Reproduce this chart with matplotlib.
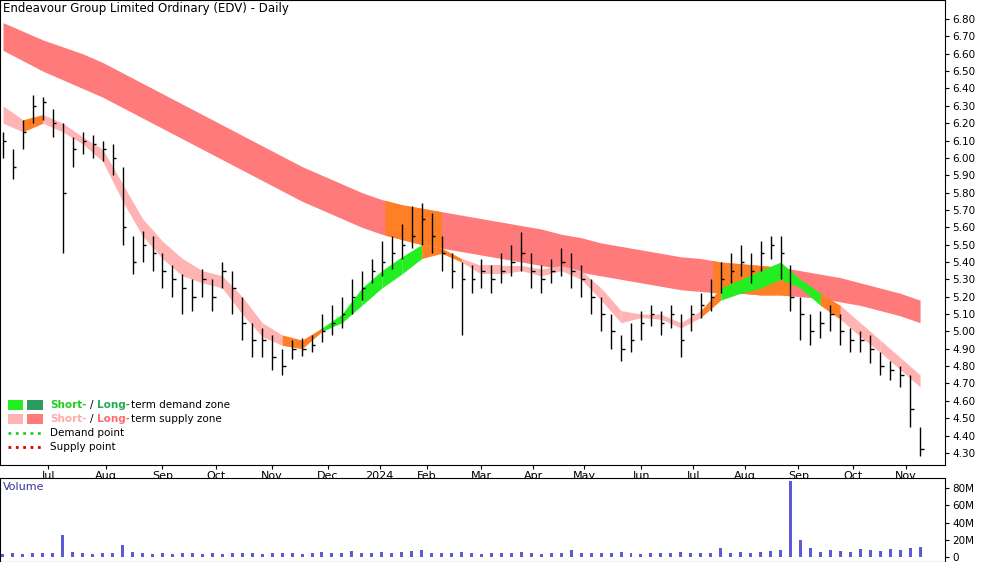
import numpy as np
import matplotlib.pyplot as plt
from matplotlib.patches import Rectangle
from matplotlib.lines import Line2D

# price bars, one every ~4 trading days
close = [6.10, 5.95, 6.15, 6.30, 6.32, 6.20, 5.80, 6.05, 6.10, 6.08,
         6.05, 6.00, 5.60, 5.40, 5.50, 5.45, 5.35, 5.30, 5.25, 5.20,
         5.30, 5.20, 5.35, 5.25, 5.05, 4.95, 4.95, 4.85, 4.80, 4.90,
         4.90, 4.92, 5.00, 5.05, 5.10, 5.20, 5.25, 5.35, 5.40, 5.45,
         5.50, 5.55, 5.65, 5.55, 5.45, 5.35, 5.30, 5.30, 5.35, 5.30,
         5.35, 5.40, 5.45, 5.35, 5.30, 5.35, 5.40, 5.35, 5.30, 5.20,
         5.10, 5.00, 4.90, 4.95, 5.05, 5.10, 5.05, 5.10, 4.95, 5.10,
         5.15, 5.20, 5.30, 5.35, 5.40, 5.35, 5.45, 5.50, 5.45, 5.20,
         5.10, 5.00, 5.05, 5.10, 5.00, 4.95, 4.95, 4.90, 4.80, 4.78,
         4.75, 4.55, 4.32]
high = [6.15, 6.05, 6.22, 6.36, 6.35, 6.28, 6.20, 6.12, 6.15, 6.13,
        6.10, 6.08, 5.95, 5.55, 5.58, 5.55, 5.45, 5.38, 5.33, 5.30,
        5.36, 5.30, 5.40, 5.35, 5.20, 5.05, 5.02, 4.98, 4.90, 4.95,
        4.96, 4.98, 5.10, 5.15, 5.20, 5.30, 5.35, 5.42, 5.52, 5.55,
        5.62, 5.72, 5.74, 5.68, 5.55, 5.45, 5.40, 5.38, 5.42, 5.38,
        5.45, 5.50, 5.57, 5.45, 5.38, 5.42, 5.48, 5.45, 5.38, 5.30,
        5.20, 5.10, 4.98, 5.05, 5.12, 5.15, 5.12, 5.15, 5.10, 5.15,
        5.22, 5.30, 5.40, 5.45, 5.50, 5.45, 5.52, 5.55, 5.55, 5.38,
        5.20, 5.10, 5.12, 5.15, 5.10, 5.02, 5.00, 4.98, 4.88, 4.83,
        4.80, 4.75, 4.45]
low = [6.00, 5.88, 6.05, 6.20, 6.22, 6.12, 5.45, 5.95, 6.02, 6.00,
       5.98, 5.90, 5.50, 5.33, 5.40, 5.35, 5.25, 5.20, 5.10, 5.12,
       5.20, 5.12, 5.25, 5.10, 4.95, 4.85, 4.85, 4.78, 4.75, 4.84,
       4.86, 4.88, 4.94, 4.98, 5.02, 5.10, 5.18, 5.28, 5.32, 5.36,
       5.42, 5.48, 5.50, 5.45, 5.35, 5.25, 4.98, 5.22, 5.25, 5.22,
       5.28, 5.32, 5.35, 5.25, 5.22, 5.28, 5.32, 5.25, 5.20, 5.10,
       5.00, 4.90, 4.83, 4.88, 4.95, 5.03, 4.98, 5.02, 4.85, 5.00,
       5.08, 5.12, 5.22, 5.28, 5.32, 5.28, 5.35, 5.42, 5.30, 5.12,
       4.95, 4.92, 4.96, 5.00, 4.92, 4.88, 4.88, 4.82, 4.75, 4.72,
       4.68, 4.45, 4.28]
volume = [3, 4, 3, 4, 5, 4, 25, 6, 4, 3,
          4, 5, 14, 6, 4, 3, 4, 3, 4, 5,
          3, 4, 3, 4, 5, 4, 3, 4, 5, 4,
          3, 5, 6, 4, 5, 7, 4, 5, 6, 5,
          6, 7, 8, 5, 4, 5, 6, 4, 3, 4,
          5, 4, 6, 4, 3, 4, 5, 8, 4, 5,
          4, 5, 6, 4, 3, 4, 5, 4, 6, 5,
          4, 5, 10, 5, 6, 5, 6, 7, 8, 88,
          20, 10, 6, 8, 7, 6, 9, 8, 7, 9,
          8, 10, 12]

# bands sampled every 2 bars
band_x = list(range(0, 94, 2))
long_up = [6.78, 6.73, 6.68, 6.64, 6.60, 6.55, 6.49, 6.43, 6.37, 6.31,
           6.25, 6.19, 6.13, 6.07, 6.01, 5.95, 5.90, 5.85, 5.80, 5.76,
           5.73, 5.71, 5.69, 5.67, 5.65, 5.63, 5.61, 5.59, 5.56, 5.54,
           5.51, 5.49, 5.47, 5.45, 5.43, 5.42, 5.40, 5.39, 5.38, 5.37,
           5.35, 5.33, 5.31, 5.28, 5.25, 5.22, 5.18]
long_lo = [6.62, 6.56, 6.50, 6.45, 6.40, 6.35, 6.29, 6.23, 6.17, 6.11,
           6.05, 5.99, 5.93, 5.87, 5.81, 5.75, 5.70, 5.65, 5.60, 5.56,
           5.53, 5.50, 5.48, 5.46, 5.44, 5.42, 5.40, 5.38, 5.36, 5.34,
           5.32, 5.30, 5.28, 5.26, 5.24, 5.23, 5.22, 5.22, 5.21, 5.21,
           5.20, 5.19, 5.17, 5.15, 5.12, 5.09, 5.05]
short_up = [6.30, 6.22, 6.25, 6.20, 6.12, 6.05, 5.85, 5.65, 5.52, 5.42,
            5.35, 5.32, 5.20, 5.05, 4.98, 4.95, 5.02, 5.10, 5.25, 5.35,
            5.43, 5.50, 5.48, 5.42, 5.38, 5.38, 5.38, 5.36, 5.38, 5.35,
            5.25, 5.12, 5.10, 5.10, 5.05, 5.12, 5.25, 5.30, 5.35, 5.40,
            5.30, 5.22, 5.15, 5.05, 4.95, 4.85, 4.75]
short_lo = [6.20, 6.15, 6.20, 6.15, 6.08, 5.98, 5.75, 5.55, 5.42, 5.32,
            5.28, 5.25, 5.10, 4.97, 4.92, 4.90, 5.00, 5.05, 5.15, 5.25,
            5.33, 5.42, 5.45, 5.40, 5.33, 5.33, 5.35, 5.32, 5.35, 5.30,
            5.18, 5.05, 5.08, 5.07, 5.02, 5.08, 5.18, 5.22, 5.25, 5.30,
            5.25, 5.15, 5.07, 4.97, 4.88, 4.78, 4.68]
# zone colour for each band segment: p pink, g green, o orange
short_zone = "poppppppppppppoogggggooppppppppppppogggggopppppp"
long_orange = [(38.3, 44.0), (71.2, 79.0)]

month_pos = [4.5, 10.3, 16.0, 21.4, 27.0, 32.6, 37.8, 42.5, 48.0, 53.2,
             58.3, 64.0, 69.2, 74.4, 79.8, 85.3, 90.6]
month_lbl = ["Jul", "Aug", "Sep", "Oct", "Nov", "Dec", "2024", "Feb", "Mar", "Apr",
             "May", "Jun", "Jul", "Aug", "Sep", "Oct", "Nov"]
price_ticks = [round(4.3 + 0.1 * k, 2) for k in range(26)]

fig = plt.figure(figsize=(10, 5.62), dpi=100)
ax = fig.add_axes([0, 0.1726, 0.945, 0.8274])
axv = fig.add_axes([0, 0, 0.945, 0.1495])

bx = np.array(band_x)
ax.fill_between(bx, long_lo, long_up, color="#ff7b7b", lw=0)
for a, b in long_orange:
    xs = np.linspace(a, b, 30)
    ax.fill_between(xs, np.interp(xs, bx, long_lo), np.interp(xs, bx, long_up),
                    color="#ff7f27", lw=0)
cols = {"p": "#ffb3b3", "g": "#22ee22", "o": "#ff7f27"}
for k in range(len(bx) - 1):
    ax.fill_between(bx[k:k + 2], short_lo[k:k + 2], short_up[k:k + 2],
                    color=cols[short_zone[k]], lw=0)

idx = np.arange(len(close))
ax.vlines(idx, low, high, color="black", lw=1)
ax.hlines(close, idx, idx + 0.35, color="black", lw=1)

ax.set_xlim(-0.3, 94.5)
ax.set_ylim(4.23, 6.91)
ax.yaxis.tick_right()
ax.set_yticks(price_ticks)
ax.set_yticklabels([f"{t:.2f}" for t in price_ticks], fontsize=7.5)
ax.set_xticks(month_pos)
ax.set_xticklabels(month_lbl, fontsize=8)
ax.tick_params(axis="x", length=3, pad=1)
ax.tick_params(axis="y", length=3, pad=2)
ax.text(0.003, 0.995, "Endeavour Group Limited Ordinary (EDV) - Daily", transform=ax.transAxes,
        fontsize=8.5, va="top")

# legend
lx, ly = 0.008, 0.118
rows = [("#22ee22", "#2e9960", "#22cc22", "#22aa55", "term demand zone"),
        ("#ffb3b3", "#ff7b7b", "#ffaaaa", "#ff6b6b", "term supply zone")]
for r, (c1, c2, tc1, tc2, rest) in enumerate(rows):
    y = ly - r * 0.03
    ax.add_patch(Rectangle((lx, y), 0.016, 0.022, transform=ax.transAxes, color=c1, lw=0))
    ax.add_patch(Rectangle((lx + 0.021, y), 0.016, 0.022, transform=ax.transAxes, color=c2, lw=0))
    ax.text(lx + 0.045, y + 0.011, "Short-", transform=ax.transAxes, fontsize=7.5, color=tc1,
            va="center", weight="bold")
    ax.text(lx + 0.087, y + 0.011, "/", transform=ax.transAxes, fontsize=7.5, va="center")
    ax.text(lx + 0.095, y + 0.011, "Long-", transform=ax.transAxes, fontsize=7.5, color=tc2,
            va="center", weight="bold")
    ax.text(lx + 0.131, y + 0.011, rest, transform=ax.transAxes, fontsize=7.5, va="center")
for r, (c, t) in enumerate([("#22cc22", "Demand point"), ("#dd0000", "Supply point")]):
    y = ly - (r + 2) * 0.03 + 0.011
    ax.add_line(Line2D([lx, lx + 0.037], [y, y], transform=ax.transAxes, color=c, lw=2, ls=":"))
    ax.text(lx + 0.045, y, t, transform=ax.transAxes, fontsize=7.5, va="center")

axv.bar(idx, volume, width=0.3, color="#5b5bd6")
axv.set_xlim(-0.3, 94.5)
axv.set_ylim(-6, 92)
axv.yaxis.tick_right()
axv.set_yticks([0, 20, 40, 60, 80])
axv.set_yticklabels(["0", "20M", "40M", "60M", "80M"], fontsize=7.5)
axv.set_xticks([])
axv.tick_params(axis="y", length=3, pad=2)
axv.text(0.003, 0.95, "Volume", transform=axv.transAxes, fontsize=8, color="#333399", va="top")

fig.savefig("out.png", dpi=100)
